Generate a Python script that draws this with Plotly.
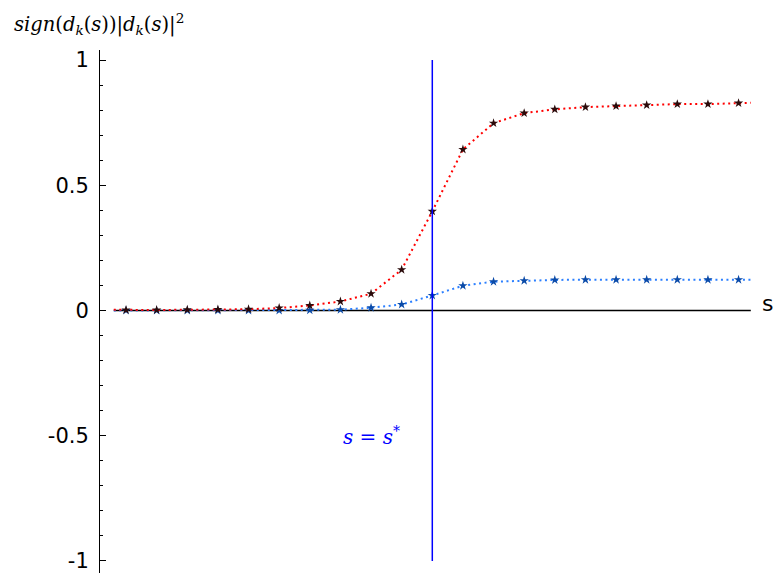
import plotly.graph_objects as go

# sample points
s_pts = list(range(-10, 11))
red_vals = [0.002, 0.002, 0.003, 0.004, 0.005, 0.010, 0.020, 0.036, 0.067, 0.163, 0.396,
            0.643, 0.748, 0.788, 0.803, 0.812, 0.816, 0.820, 0.824, 0.824, 0.828]
blue_vals = [0.000, 0.000, 0.000, 0.000, 0.000, 0.000, 0.001, 0.003, 0.011, 0.024, 0.060,
             0.099, 0.115, 0.119, 0.122, 0.123, 0.123, 0.123, 0.123, 0.123, 0.123]

# curve ends (slightly beyond sample points)
s_ends = [-10.4, 10.4]
red_ends = [0.003, 0.829]
blue_ends = [0.000, 0.123]

s_star = 0
vline_y = [-1, 1]

y_tickvals = [-1, -0.5, 0, 0.5, 1]
y_ticktext = ["-1", "-0.5", "0", "0.5", "1"]

s_line = [s_ends[0]] + s_pts + [s_ends[1]]
red_line = [red_ends[0]] + red_vals + [red_ends[1]]
blue_line = [blue_ends[0]] + blue_vals + [blue_ends[1]]

fig = go.Figure()

fig.add_trace(go.Scatter(x=s_line, y=blue_line, mode="lines",
                         line=dict(color="#2b7fff", width=2, dash="2px,3.5px"),
                         showlegend=False, hoverinfo="skip"))
fig.add_trace(go.Scatter(x=s_pts, y=blue_vals, mode="markers",
                         marker=dict(symbol="star", size=7, color="#0a4aa8"),
                         showlegend=False))
fig.add_trace(go.Scatter(x=s_line, y=red_line, mode="lines",
                         line=dict(color="#ff0000", width=2, dash="2px,3.5px"),
                         showlegend=False, hoverinfo="skip"))
fig.add_trace(go.Scatter(x=s_pts, y=red_vals, mode="markers",
                         marker=dict(symbol="star", size=7, color="#2a0a0a"),
                         showlegend=False))
fig.add_trace(go.Scatter(x=[s_star, s_star], y=vline_y, mode="lines",
                         line=dict(color="#0000ff", width=1.5),
                         showlegend=False, hoverinfo="skip"))

# horizontal axis line at y = 0
fig.add_shape(type="line", xref="x", yref="y", x0=s_ends[0], x1=s_ends[1], y0=0, y1=0,
              line=dict(color="black", width=1.3), layer="below")

fig.update_layout(
    width=775, height=572,
    margin=dict(l=92, r=23, t=42, b=7),
    paper_bgcolor="white", plot_bgcolor="white",
    font=dict(family="DejaVu Sans", size=20, color="black"),
    xaxis=dict(range=[-10.85, 10.70], showline=False, showgrid=False, zeroline=False,
               showticklabels=False, ticks=""),
    yaxis=dict(range=[-1.048, 1.04], showline=True, linecolor="black", linewidth=1,
               showgrid=False, zeroline=False, tickvals=y_tickvals, ticktext=y_ticktext,
               ticks="inside", ticklen=6, tickcolor="black", tickwidth=1,
               ticklabelstandoff=6,
               tickfont=dict(family="DejaVu Sans", size=21, color="black"),
               minor=dict(dtick=0.1, ticks="inside", ticklen=3, tickcolor="black", tickwidth=1)),
    annotations=[
        dict(text="<i>sign</i>(<i>d</i><sub><i>k</i></sub>(<i>s</i>))|<i>d</i><sub><i>k</i></sub>(<i>s</i>)|<sup>2</sup>",
             xref="paper", yref="paper", x=0, xshift=-88, y=1.0, yshift=42, xanchor="left", yanchor="top",
             showarrow=False, font=dict(family="DejaVu Serif", size=19.5, color="black")),
        dict(text="s", xref="paper", yref="y", x=1.0, xshift=0, y=0, yshift=7,
             xanchor="left", yanchor="middle", showarrow=False,
             font=dict(family="DejaVu Sans", size=22, color="black")),
        dict(text="<i>s</i> = <i>s</i><sup>*</sup>", xref="x", yref="y", x=s_star, y=-0.5,
             xshift=-61, xanchor="center", yanchor="middle", showarrow=False,
             font=dict(family="DejaVu Serif", size=20, color="#0000ff")),
    ],
)

fig.write_html("out.html")
